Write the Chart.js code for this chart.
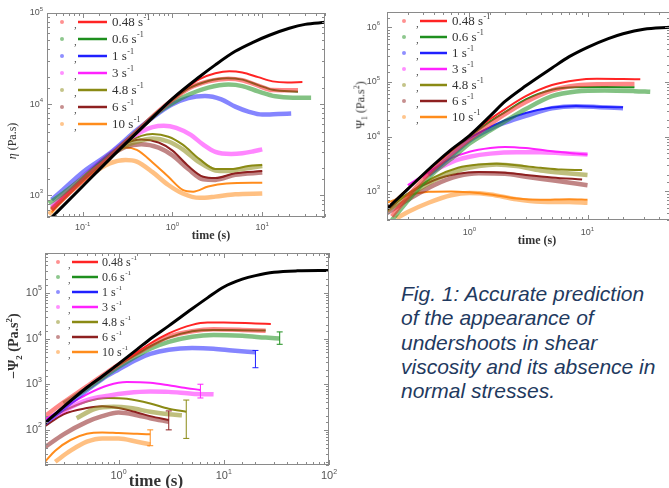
<!DOCTYPE html>
<html>
<head>
<meta charset="utf-8">
<script src="https://cdn.jsdelivr.net/npm/chart.js@4.4.1/dist/chart.umd.min.js"></script>
<style>
html, body { margin: 0; padding: 0; background: #fff; }
body { width: 669px; height: 488px; overflow: hidden; position: relative; }
canvas { position: absolute; }
.ttl { position: absolute; color: #333; font-family: "Liberation Serif", serif; white-space: nowrap; transform: translate(-50%, -50%); }
.rot { transform: translate(-50%, -50%) rotate(-90deg); }
#caption { position: absolute; left: 401px; top: 282px; font-family: "Liberation Sans", Arial, sans-serif; font-style: italic; font-size: 21px; line-height: 24.3px; color: #1f3a60; white-space: nowrap; }
</style>
</head>
<body>
<canvas id="etaChart" width="335" height="245" style="left:0;top:0"></canvas>
<canvas id="psi1Chart" width="345" height="250" style="left:330px;top:0"></canvas>
<canvas id="psi2Chart" width="340" height="248" style="left:0;top:240px"></canvas>

<div class="ttl rot" style="left:12px;top:141px;font-size:12px"><i>η</i> (Pa.s)</div>
<div class="ttl" style="left:211px;top:235px;font-size:12px;font-weight:bold">time (s)</div>
<div class="ttl rot" style="left:361px;top:105px;font-size:12px">Ψ<sub style="font-size:8px">1</sub> (Pa.s<sup style="font-size:8px">2</sup>)</div>
<div class="ttl" style="left:537px;top:240px;font-size:12px;font-weight:bold">time (s)</div>
<div class="ttl rot" style="left:14px;top:346px;font-size:14px;font-weight:bold">−Ψ<sub style="font-size:9px">2</sub> (Pa.s<sup style="font-size:9px">2</sup>)</div>
<div class="ttl" style="left:156px;top:481px;font-size:17px;font-weight:bold">time (s)</div>

<div id="caption">Fig. 1: Accurate prediction<br>of the appearance of<br>undershoots in shear<br>viscosity and its absence in<br>normal stresses.</div>

<script>
// Shear rates (legend)
const rates = ['0.48', '0.6', '1', '3', '4.8', '6', '10'];
const colors = ['#ff2424', '#1e8f1e', '#2020ff', '#ff22ff', '#8a8a14', '#8e2020', '#ff8c1c'];

// Panel 1: shear viscosity eta (Pa.s) vs time (s)   [t, value]
const etaFit = [[0.04,510],[0.1,1260],[0.2,2500],[0.5,6000],[1,11500],[2,20000],[3,27000],[5,38000],[8,48000],[12,57000],[20,68000],[30,75000],[50,79000]];
const eta048m = [[0.9,10400],[1.3,14000],[2,18800],[3,21800],[4.3,23000],[6,22300],[9,19800],[13,17800],[19,17300],[28,17500]];
const eta048e = [[0.045,700],[0.07,1050],[0.1,1450],[0.2,2650],[0.4,5000],[0.7,8400],[1,11200],[1.5,14800],[2.5,17800],[4.2,19000],[6,18300],[9,16000],[13,14300],[25,14200]];
const eta06m = [[0.9,10300],[1.5,14800],[2.5,18000],[4,19300],[6,18600],[9,16200],[13,14400],[25,13700]];
const eta06e = [[0.042,820],[0.06,1050],[0.1,1550],[0.2,2700],[0.4,5000],[0.7,8200],[1,10300],[1.5,12700],[2.5,15200],[4.2,16400],[6,15800],[9,13800],[14,12200],[22,11800],[35,11800]];
const eta1e = [[0.045,900],[0.06,1150],[0.1,1800],[0.2,2900],[0.4,5200],[0.7,8000],[1,10000],[1.5,11700],[2.3,12300],[3.5,11300],[5,9400],[7,8300],[10,7700],[15,7800],[21,7900]];
const eta3e = [[0.045,750],[0.1,1600],[0.2,2800],[0.3,3900],[0.45,5000],[0.6,5600],[0.8,5800],[1.1,5500],[1.6,4600],[2.2,3600],[3,3000],[4.5,2850],[6,2900],[8,3050],[10,3200]];
const eta48m = [[0.2,2800],[0.3,3700],[0.45,4500],[0.6,4700],[0.9,4400],[1.3,3600],[2,2500],[3,1950],[4.5,1950],[7,2100],[10,2150]];
const eta48e = [[0.045,720],[0.1,1500],[0.2,2700],[0.3,3500],[0.45,4000],[0.6,4200],[0.9,3900],[1.3,3200],[2,2300],[3,1880],[4,1850],[6,1950],[10,2100]];
const eta6m = [[0.2,2800],[0.3,3700],[0.45,4100],[0.7,3800],[1,3100],[1.5,2100],[2.2,1600],[3,1550],[5,1750],[10,1850]];
const eta6e = [[0.045,700],[0.1,1500],[0.2,2700],[0.3,3400],[0.45,3650],[0.7,3350],[1,2750],[1.5,1950],[2.2,1500],[3,1480],[5,1680],[10,1780]];
const eta10m = [[0.045,650],[0.08,1250],[0.15,2300],[0.22,3100],[0.3,3350],[0.4,3150],[0.6,2300],[0.9,1600],[1.3,1150],[1.7,1100],[2.5,1250],[4,1350],[10,1380]];
const eta10e = [[0.042,620],[0.07,1050],[0.12,1650],[0.2,2250],[0.3,2450],[0.4,2350],[0.6,1800],[0.9,1300],[1.3,1050],[2,940],[3,970],[5,1030],[10,1050]];

// Panel 2: first normal stress coefficient Psi1 (Pa.s^2)
const psi1Fit = [[0.2,480],[0.3,1100],[0.5,3100],[0.7,5800],[1,10500],[1.5,24000],[2,44000],[3,85000],[5,180000],[7,290000],[10,430000],[15,620000],[20,760000],[30,920000],[50,1000000]];
const psi1048m = [[0.2,500],[0.5,3000],[1,10500],[1.5,21000],[2,32000],[3,55000],[5,88000],[8,108000],[12,114000],[20,113000],[28,112000]];
const psi1048e = [[0.22,350],[0.3,800],[0.5,2600],[0.8,6200],[1,9000],[1.5,17000],[2,26000],[3,43000],[5,70000],[8,86000],[12,91000],[25,92000]];
const psi106m = [[0.2,500],[0.5,3000],[1,10000],[1.5,19000],[2,28000],[3,48000],[5,72000],[8,80000],[14,81000],[25,80000]];
const psi106e = [[0.22,300],[0.35,1000],[0.5,2200],[0.8,5000],[1,7500],[1.5,13000],[2,19000],[3,32000],[5,55000],[8,67000],[14,70000],[25,68000],[34,66000]];
const psi11m = [[0.8,7000],[1,9500],[1.5,15000],[2,20000],[3,27000],[5,34000],[8,36500],[14,35000],[20,34500]];
const psi11e = [[0.45,2000],[0.7,4500],[1,8500],[1.5,14000],[2,18000],[3,24000],[5,33000],[8,36000],[12,35000],[20,33000]];
const psi13m = [[0.3,1300],[0.5,2600],[0.7,4000],[1,5300],[1.5,6200],[2,6500],[3,6200],[5,5400],[8,4900],[10,4700]];
const psi13e = [[0.4,1800],[0.6,2900],[0.8,3800],[1,4300],[1.5,4900],[2.5,5200],[4,5200],[6,5000],[10,4700]];
const psi148m = [[0.2,500],[0.3,900],[0.5,1800],[0.8,2700],[1.2,3100],[1.7,3200],[2.5,3000],[4,2700],[6,2500],[9,2450]];
const psi148e = [[0.2,450],[0.3,800],[0.5,1600],[0.8,2400],[1.2,2900],[1.7,3100],[2.5,2900],[4,2400],[6,2200],[10,2000]];
const psi16m = [[0.2,450],[0.3,900],[0.5,1600],[0.8,2100],[1.2,2250],[2,2200],[3,2000],[5,1800],[9,1650]];
const psi16e = [[0.2,400],[0.3,700],[0.5,1300],[0.8,1900],[1.2,2150],[2,2100],[3,1850],[5,1600],[10,1300]];
const psi110m = [[0.2,620],[0.3,850],[0.45,980],[0.7,1000],[1,960],[1.5,880],[2.5,740],[4,700],[7,720],[10,700]];
const psi110e = [[0.24,320],[0.3,420],[0.45,620],[0.7,850],[1,930],[1.5,880],[2.5,720],[4,650],[7,640],[10,620]];

// Panel 3: second normal stress coefficient -Psi2 (Pa.s^2)
const psi2Fit = [[0.2,140],[0.3,320],[0.5,850],[0.7,1500],[1,2800],[1.5,5800],[2,9800],[3,19000],[5,45000],[7,78000],[10,135000],[15,200000],[20,240000],[30,285000],[50,305000],[100,310000]];
const psi2048m = [[0.9,2400],[1.5,5000],[2,7800],[3,13000],[5,20000],[7,22500],[10,22500],[20,21500],[28,21000]];
const psi2048e = [[0.2,200],[0.3,400],[0.5,900],[1,2700],[1.5,4800],[2,7000],[3,11000],[5,14500],[8,16000],[15,15500],[25,14800]];
const psi206m = [[0.9,2300],[1.5,4600],[2,6800],[3,10500],[5,14500],[8,15500],[15,15200],[25,15000]];
const psi206e = [[0.3,380],[0.5,800],[1,2400],[1.5,4200],[2,6000],[3,8500],[5,11000],[8,12000],[15,11500],[25,10500],[34,10000]];
const psi21e = [[0.2,140],[0.4,500],[0.7,1300],[1,2100],[1.5,3500],[2,4600],[3,5700],[5,6200],[8,6000],[12,5500],[20,5000]];
const psi23m = [[0.2,170],[0.3,300],[0.5,600],[0.8,950],[1.2,1120],[2,1080],[3,950],[4,850],[6,750]];
const psi23e = [[0.2,150],[0.3,260],[0.5,450],[0.8,560],[1.2,640],[2,690],[3,680],[5,620],[8,600]];
const psi248m = [[0.2,150],[0.3,260],[0.5,420],[0.8,500],[1.2,480],[2,380],[3,290],[4.4,250]];
const psi248e = [[0.4,180],[0.6,290],[0.9,320],[1.3,300],[2,250],[3,220],[4,210]];
const psi26m = [[0.2,120],[0.3,220],[0.5,300],[0.7,330],[1,300],[1.5,240],[2,200],[3,165]];
const psi26e = [[0.2,42],[0.3,80],[0.5,150],[0.7,200],[1,240],[1.5,210],[2,180],[3,150]];
const psi210m = [[0.2,20],[0.25,35],[0.35,60],[0.5,82],[0.7,88],[1,85],[1.5,82],[2,80]];
const psi210e = [[0.25,20],[0.35,35],[0.5,55],[0.7,65],[1,65],[1.5,55],[2,48]];
// error bars at the end of the -Psi2 curves: time, low, high, rate index
const psi2ErrT = [34, 20, 6, 4.4, 3, 2];
const psi2ErrLo = [7500, 2300, 500, 65, 100, 45];
const psi2ErrHi = [14000, 5500, 1000, 450, 260, 100];
const psi2ErrRate = [1, 2, 3, 4, 5, 6];

// Helpers
const hexA = (hex, a) => {
    const n = parseInt(hex.slice(1), 16);
    return `rgba(${n >> 16},${(n >> 8) & 255},${n & 255},${a})`;
};
const isPow10 = v => Math.abs(Math.log10(v) - Math.round(Math.log10(v))) < 1e-6;

function series(data, color, width) {
    return {
        data: data.map(p => ({ x: p[0], y: p[1] })),
        borderColor: color,
        borderWidth: width,
        pointRadius: 0,
        cubicInterpolationMode: 'monotone',
        fill: false
    };
}
const fitLine = data => series(data, '#000', 3);
const model = (data, i) => series(data, colors[i], 2);
const expBand = (data, i) => series(data, hexA(colors[i], 0.55), 4.5);

// Draw "10" with a raised exponent
function drawPow(ctx, exp, x, y, align, size) {
    const base = '10', sup = String(exp);
    ctx.font = `${size}px "Liberation Sans", Arial, sans-serif`;
    const w1 = ctx.measureText(base).width;
    ctx.font = `${Math.round(size * 0.62)}px "Liberation Sans", Arial, sans-serif`;
    const w2 = ctx.measureText(sup).width;
    let x0 = align === 'right' ? x - w1 - w2 : x - (w1 + w2) / 2;
    ctx.font = `${size}px "Liberation Sans", Arial, sans-serif`;
    ctx.fillText(base, x0, y);
    ctx.font = `${Math.round(size * 0.62)}px "Liberation Sans", Arial, sans-serif`;
    ctx.fillText(sup, x0 + w1, y - size * 0.4);
}

// Frame with inward ticks on all four sides + tick labels
const frameTicks = {
    id: 'frameTicks',
    afterDatasetsDraw(chart, args, o) {
        const { ctx, chartArea: a, scales: { x, y } } = chart;
        ctx.save();
        ctx.strokeStyle = '#8a8a8a';
        ctx.lineWidth = 1;
        ctx.strokeRect(a.left + 0.5, a.top + 0.5, a.width - 1, a.height - 1);
        ctx.beginPath();
        x.ticks.forEach(t => {
            const px = Math.round(x.getPixelForValue(t.value)) + 0.5;
            const len = isPow10(t.value) ? 5 : 3;
            ctx.moveTo(px, a.bottom); ctx.lineTo(px, a.bottom - len);
            ctx.moveTo(px, a.top); ctx.lineTo(px, a.top + len);
        });
        y.ticks.forEach(t => {
            const py = Math.round(y.getPixelForValue(t.value)) + 0.5;
            const len = isPow10(t.value) ? 5 : 3;
            ctx.moveTo(a.left, py); ctx.lineTo(a.left + len, py);
            ctx.moveTo(a.right, py); ctx.lineTo(a.right - len, py);
        });
        ctx.stroke();

        ctx.fillStyle = '#555';
        ctx.textBaseline = 'middle';
        ctx.textAlign = 'left';
        x.ticks.filter(t => isPow10(t.value)).forEach(t => {
            drawPow(ctx, Math.round(Math.log10(t.value)), x.getPixelForValue(t.value), a.bottom + o.xPad, 'center', o.size);
        });
        y.ticks.filter(t => isPow10(t.value)).forEach(t => {
            drawPow(ctx, Math.round(Math.log10(t.value)), a.left - o.yPad, y.getPixelForValue(t.value), 'right', o.size);
        });
        ctx.restore();
    }
};

// Error bars (only used on the -Psi2 panel)
const errorBars = {
    id: 'errorBars',
    afterDatasetsDraw(chart, args, o) {
        if (!o.t) return;
        const { ctx, scales: { x, y } } = chart;
        ctx.save();
        ctx.lineWidth = 1;
        o.t.forEach((t, i) => {
            const px = x.getPixelForValue(t);
            const lo = y.getPixelForValue(o.lo[i]);
            const hi = y.getPixelForValue(o.hi[i]);
            ctx.strokeStyle = colors[o.rate[i]];
            ctx.beginPath();
            ctx.moveTo(px, lo); ctx.lineTo(px, hi);
            ctx.moveTo(px - 3, lo); ctx.lineTo(px + 3, lo);
            ctx.moveTo(px - 3, hi); ctx.lineTo(px + 3, hi);
            ctx.stroke();
        });
        ctx.restore();
    }
};

// Legend: dot , line  rate s^-1
const rateLegend = {
    id: 'rateLegend',
    afterDraw(chart, args, o) {
        const ctx = chart.ctx;
        ctx.save();
        ctx.textBaseline = 'middle';
        ctx.textAlign = 'left';
        rates.forEach((r, i) => {
            const yy = o.y + i * o.dy;
            ctx.fillStyle = hexA(colors[i], 0.5);
            ctx.beginPath(); ctx.arc(o.dotX, yy, 2, 0, Math.PI * 2); ctx.fill();
            ctx.fillStyle = '#444';
            ctx.font = `${o.size - 2}px "Liberation Serif", serif`;
            ctx.fillText(',', o.lineX1 - 4, yy + 3);
            ctx.strokeStyle = colors[i];
            ctx.lineWidth = 2.5;
            ctx.beginPath(); ctx.moveTo(o.lineX1, yy); ctx.lineTo(o.lineX2, yy); ctx.stroke();
            ctx.fillStyle = '#333';
            ctx.font = `${o.size}px "Liberation Serif", serif`;
            const txt = r + ' s';
            ctx.fillText(txt, o.textX, yy + 1);
            const w = ctx.measureText(txt).width;
            ctx.font = `${Math.round(o.size * 0.62)}px "Liberation Serif", serif`;
            ctx.fillText('-1', o.textX + w + 0.5, yy - o.size * 0.35);
        });
        ctx.restore();
    }
};

function makeChart(id, datasets, xr, yr, geo) {
    return new Chart(document.getElementById(id), {
        type: 'line',
        data: { datasets },
        options: {
            responsive: false,
            animation: false,
            events: [],
            layout: { padding: geo.pad },
            plugins: {
                legend: { display: false },
                tooltip: { enabled: false },
                frameTicks: geo.ticks,
                rateLegend: geo.legend,
                errorBars: geo.err || {}
            },
            scales: {
                x: {
                    type: 'logarithmic', min: xr[0], max: xr[1],
                    grid: { display: false }, border: { display: false }, ticks: { display: false },
                    afterFit: s => { s.height = geo.xh; }
                },
                y: {
                    type: 'logarithmic', min: yr[0], max: yr[1],
                    grid: { display: false }, border: { display: false }, ticks: { display: false },
                    afterFit: s => { s.width = geo.yw; }
                }
            }
        },
        plugins: [frameTicks, errorBars, rateLegend]
    });
}

// Panel 1
makeChart('etaChart', [
    fitLine(etaFit),
    model(eta048m, 0), expBand(eta048e, 0),
    model(eta06m, 1), expBand(eta06e, 1),
    expBand(eta1e, 2),
    expBand(eta3e, 3),
    model(eta48m, 4), expBand(eta48e, 4),
    model(eta6m, 5), expBand(eta6e, 5),
    model(eta10m, 6), expBand(eta10e, 6)
], [0.04, 50], [580, 100000], {
    pad: { left: 0, top: 13, right: 10, bottom: 0 }, yw: 47, xh: 28,
    ticks: { xPad: 11, yPad: 4, size: 9 },
    legend: { dotX: 62, lineX1: 78, lineX2: 107, textX: 112, y: 22, dy: 17, size: 13 }
});

// Panel 2
makeChart('psi1Chart', [
    fitLine(psi1Fit),
    model(psi1048m, 0), expBand(psi1048e, 0),
    model(psi106m, 1), expBand(psi106e, 1),
    model(psi11m, 2), expBand(psi11e, 2),
    model(psi13m, 3), expBand(psi13e, 3),
    model(psi148m, 4), expBand(psi148e, 4),
    model(psi16m, 5), expBand(psi16e, 5),
    model(psi110m, 6), expBand(psi110e, 6)
], [0.2, 50], [300, 1900000], {
    pad: { left: 0, top: 12, right: 5, bottom: 0 }, yw: 57, xh: 30,
    ticks: { xPad: 13, yPad: 7, size: 9 },
    legend: { dotX: 74, lineX1: 90, lineX2: 117, textX: 122, y: 21, dy: 16, size: 13 }
});

// Panel 3
makeChart('psi2Chart', [
    fitLine(psi2Fit),
    model(psi2048m, 0), expBand(psi2048e, 0),
    model(psi206m, 1), expBand(psi206e, 1),
    expBand(psi21e, 2),
    model(psi23m, 3), expBand(psi23e, 3),
    model(psi248m, 4), expBand(psi248e, 4),
    model(psi26m, 5), expBand(psi26e, 5),
    model(psi210m, 6), expBand(psi210e, 6)
], [0.2, 100], [17, 750000], {
    pad: { left: 0, top: 13, right: 11, bottom: 0 }, yw: 45, xh: 23,
    ticks: { xPad: 11, yPad: 3, size: 11 },
    legend: { dotX: 58, lineX1: 72, lineX2: 98, textX: 102, y: 22, dy: 15, size: 12 },
    err: { t: psi2ErrT, lo: psi2ErrLo, hi: psi2ErrHi, rate: psi2ErrRate }
});
</script>
</body>
</html>
